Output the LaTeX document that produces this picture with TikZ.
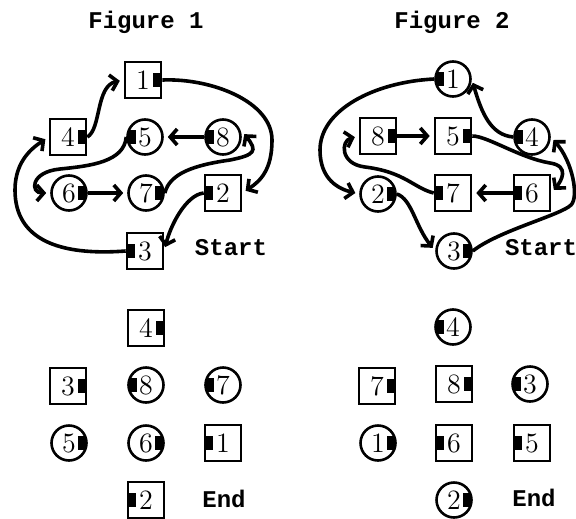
\documentclass[tikz,border=0pt]{standalone}
\usepackage{fontspec}
\setmonofont{Liberation Mono}
\usetikzlibrary{arrows.meta}

\tikzset{
	cell/.style	= {draw, line width=1.3pt, inner sep=0pt, font=\fontsize{14}{14}\selectfont},
	sq/.style	= {cell, rectangle, minimum size=18pt},
	rd/.style	= {cell, circle, minimum size=17.5pt},
	tabL/.style	= {path picture={\fill ([yshift=-3.6pt]path picture bounding box.west) rectangle ([xshift=4.2pt, yshift=3.6pt]path picture bounding box.west);}},
	tabR/.style	= {path picture={\fill ([xshift=-4.2pt, yshift=-3.6pt]path picture bounding box.east) rectangle ([yshift=3.6pt]path picture bounding box.east);}},
	link/.style	= {line width=1.8pt, -{Straight Barb[length=3.5pt, width=8pt]}, shorten >=2pt},
	tag/.style	= {font=\fontsize{12}{12}\selectfont\ttfamily\bfseries}
}

\begin{document}
\begin{tikzpicture}[x=0.5pt, y=-0.5pt]
	\useasboundingbox (0, 0) rectangle (576, 518);

	% Figure 1
	\node (T1) at (146,  22)	[tag]	{Figure 1};
	\node (A1) at (143,  80)	[sq, tabR]	{1};
	\node (A4) at ( 68, 137)	[sq, tabR]	{4};
	\node (A5) at (145, 137)	[rd, tabL]	{5};
	\node (A8) at (223, 137)	[rd, tabL]	{8};
	\node (A6) at ( 69, 193)	[rd, tabR]	{6};
	\node (A7) at (146, 193)	[rd, tabR]	{7};
	\node (A2) at (223, 193)	[sq, tabL]	{2};
	\node (A3) at (145, 251)	[sq, tabL]	{3};
	\node (S1) at (231, 248)	[tag]	{Start};
	\draw[link] (A4.east) .. controls +(14,-8) and +(-28,6) .. (A1.west);
	\draw[link] (A1.east) .. controls +(50,-2) and +(0,-38) .. (272,140) .. controls +(0,30) and +(18,-12) .. (A2.east);
	\draw[link] (A2.west) .. controls +(-18,2) and +(6,-25) .. (A3.east);
	\draw[link] (A3.west) .. controls +(-66,5) and +(0,50) .. (15,190) .. controls +(0,-30) and +(-15,10) .. (A4.west);
	\draw[link] (A8.west) -- (A5.east);
	\draw[link] (A5.west) .. controls +(-2,25) and +(30,-3) .. (60,169) .. controls +(-30,3) and +(-20,0) .. (A6.west);
	\draw[link] (A6.east) -- (A7.west);
	\draw[link] (A7.east) .. controls +(5,-20) and +(-35,5) .. (230,160) .. controls +(25,-5) and +(16,20) .. ([yshift=3pt]A8.east);

	% Figure 2
	\node (T2) at (452,  22)	[tag]	{Figure 2};
	\node (B1) at (453,  79)	[rd, tabL]	{1};
	\node (B8) at (378, 136)	[sq, tabR]	{8};
	\node (B5) at (453, 136)	[sq, tabR]	{5};
	\node (B4) at (532, 137)	[rd, tabL]	{4};
	\node (B2) at (378, 194)	[rd, tabR]	{2};
	\node (B7) at (453, 193)	[sq, tabL]	{7};
	\node (B6) at (532, 193)	[sq, tabL]	{6};
	\node (B3) at (454, 251)	[rd, tabR]	{3};
	\node (S2) at (541, 248)	[tag]	{Start};
	\draw[link] (B8.east) -- (B5.west);
	\draw[link] (B5.east) .. controls +(15,0) and +(-30,-5) .. (550,163) .. controls +(20,3) and +(10,-12) .. (B6.east);
	\draw[link] (B6.west) -- (B7.east);
	\draw[link] (B7.west) .. controls +(-20,-5) and +(40,5) .. (365,167) .. controls +(-25,-3) and +(-18,5) .. (B8.west);
	\draw[link] (B4.west) .. controls +(-22,-2) and +(10,35) .. (B1.east);
	\draw[link] (B1.west) .. controls +(-60,3) and +(0,-40) .. (320,150) .. controls +(0,30) and +(-20,-5) .. (B2.west);
	\draw[link] (B2.east) .. controls +(15,5) and +(-20,-25) .. (B3.west);
	\draw[link] (B3.east) .. controls +(25,-20) and +(-10,10) .. (571,205) .. controls +(8,-8) and +(22,25) .. (B4.east);

	% Figure 1, end
	\node (C4) at (146, 328)	[sq, tabR]	{4};
	\node (C3) at ( 68, 386)	[sq, tabR]	{3};
	\node (C8) at (146, 385)	[rd, tabL]	{8};
	\node (C7) at (223, 385)	[rd, tabL]	{7};
	\node (C5) at ( 69, 443)	[rd, tabR]	{5};
	\node (C6) at (146, 443)	[rd, tabR]	{6};
	\node (C1) at (223, 443)	[sq, tabL]	{1};
	\node (C2) at (146, 500)	[sq, tabL]	{2};
	\node (E1) at (224, 499)	[tag]	{End};

	% Figure 2, end
	\node (D4) at (453, 327)	[rd, tabL]	{4};
	\node (D7) at (377, 386)	[sq, tabR]	{7};
	\node (D8) at (454, 384)	[sq, tabR]	{8};
	\node (D3) at (530, 384)	[rd, tabL]	{3};
	\node (D1) at (378, 443)	[rd, tabR]	{1};
	\node (D6) at (454, 443)	[sq, tabL]	{6};
	\node (D5) at (532, 443)	[sq, tabL]	{5};
	\node (D2) at (454, 500)	[rd, tabR]	{2};
	\node (E2) at (534, 498)	[tag]	{End};
\end{tikzpicture}
\end{document}
